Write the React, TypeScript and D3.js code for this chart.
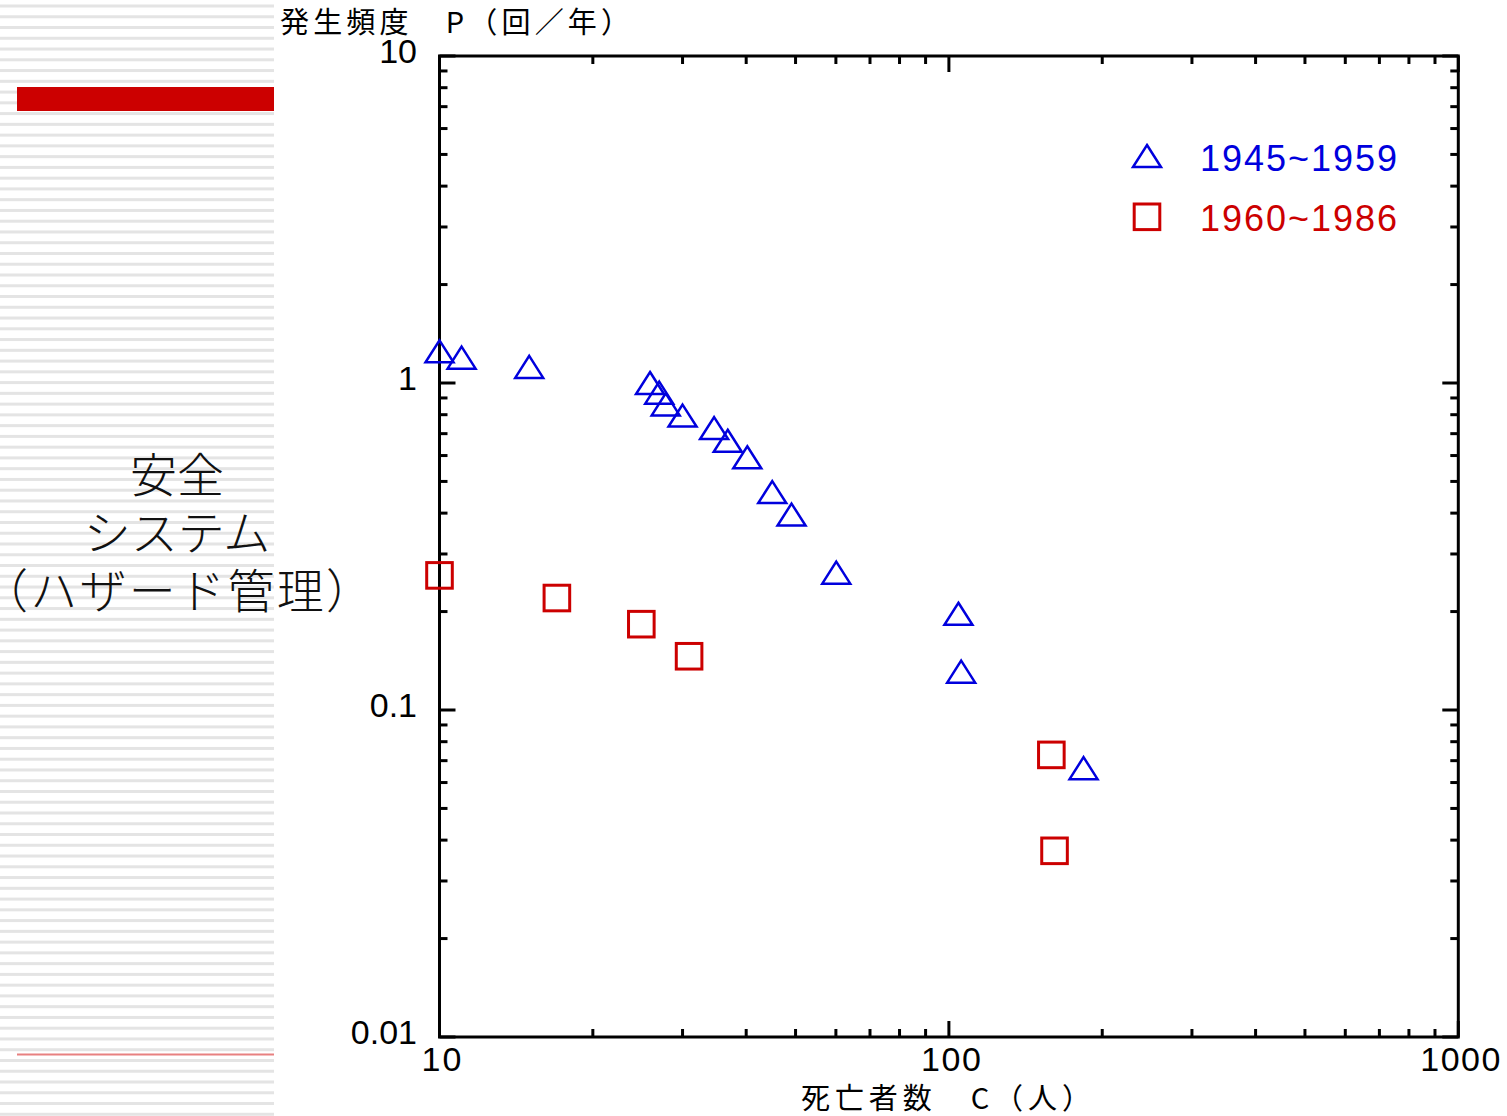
import React, { useRef, useEffect } from "react";
import * as d3 from "d3";

// 1945~1959 : death toll C, frequency P (per year)
const deaths1945 = [10.0, 11.05, 15.0, 25.9, 27.0, 27.8, 30.0, 34.6, 36.8, 40.2, 45.0, 49.1, 60.1, 104.4, 105.7, 183.8];
const freq1945 = [1.25, 1.195, 1.12, 1.0, 0.934, 0.86, 0.795, 0.728, 0.666, 0.593, 0.464, 0.396, 0.263, 0.197, 0.131, 0.0664];

// 1960~1986
const deaths1960 = [10.0, 17.0, 24.9, 30.9, 158.9, 161.2];
const freq1960 = [0.258, 0.22, 0.183, 0.146, 0.0729, 0.0371];

const xTickLabels = ["10", "100", "1000"];
const yTickLabels = ["0.01", "0.1", "1", "10"];
const seriesNames = ["1945~1959", "1960~1986"];
const sideLines = ["安全", "システム", "（ハザード管理）"];

const BLUE = "#0000dd";
const RED = "#cc0000";

export default function App() {
  const ref = useRef<SVGSVGElement>(null);

  useEffect(() => {
    const width = 1507;
    const height = 1116;
    const svg = d3.select(ref.current);
    svg.selectAll("*").remove();
    svg.attr("width", width).attr("height", height);

    const left = 439.5, right = 1458.3, top = 56, bottom = 1037;
    const x = d3.scaleLog().domain([10, 1000]).range([left, right]);
    const y = d3.scaleLog().domain([0.01, 10]).range([bottom, top]);

    svg.append("rect").attr("width", width).attr("height", height).attr("fill", "#fff");

    // striped side panel
    const side = svg.append("g");
    side.selectAll("rect.stripe")
      .data(d3.range(6, height, 10.76))
      .enter()
      .append("rect")
      .attr("x", 0)
      .attr("y", d => d - 1.5)
      .attr("width", 274)
      .attr("height", 3)
      .attr("fill", "#e4e4e4");
    side.append("rect").attr("x", 17).attr("y", 87).attr("width", 257).attr("height", 24).attr("fill", RED);
    side.append("rect").attr("x", 17).attr("y", 1053.5).attr("width", 257).attr("height", 2).attr("fill", "#e88080");

    side.selectAll("text.side")
      .data(sideLines)
      .enter()
      .append("text")
      .attr("x", 177)
      .attr("y", (d, i) => 492 + i * 58)
      .attr("text-anchor", "middle")
      .attr("font-family", "'Noto Sans CJK JP', sans-serif")
      .attr("font-size", 47)
      .attr("font-weight", 300)
      .attr("fill", "#111")
      .attr("textLength", (d, i) => (i === 2 ? 392 : null))
      .attr("lengthAdjust", "spacing")
      .text(d => d);

    // frame
    svg.append("rect")
      .attr("x", left).attr("y", top)
      .attr("width", right - left).attr("height", bottom - top)
      .attr("fill", "none").attr("stroke", "#000").attr("stroke-width", 3);

    const isMajor = (v: number) => Math.abs(Math.log10(v) - Math.round(Math.log10(v))) < 1e-6;
    const ticks = svg.append("g").attr("stroke", "#000").attr("stroke-width", 3);

    x.ticks().forEach(v => {
      const len = isMajor(v) ? 16 : 8;
      const px = x(v);
      ticks.append("line").attr("x1", px).attr("x2", px).attr("y1", bottom).attr("y2", bottom - len);
      ticks.append("line").attr("x1", px).attr("x2", px).attr("y1", top).attr("y2", top + len);
    });
    y.ticks().forEach(v => {
      const len = isMajor(v) ? 16 : 8;
      const py = y(v);
      ticks.append("line").attr("x1", left).attr("x2", left + len).attr("y1", py).attr("y2", py);
      ticks.append("line").attr("x1", right).attr("x2", right - len).attr("y1", py).attr("y2", py);
    });

    const sans = "'Liberation Sans', sans-serif";
    const cjk = "'Noto Sans CJK JP', sans-serif";

    svg.selectAll("text.xl")
      .data(xTickLabels)
      .enter()
      .append("text")
      .attr("x", d => x(+d) + 2)
      .attr("y", 1059)
      .attr("dominant-baseline", "central")
      .attr("text-anchor", "middle")
      .attr("font-family", sans)
      .attr("font-size", 34)
      .attr("textLength", d => d.length * 20)
      .attr("lengthAdjust", "spacing")
      .text(d => d);

    svg.selectAll("text.yl")
      .data(yTickLabels)
      .enter()
      .append("text")
      .attr("x", 417)
      .attr("y", d => y(+d) - 5)
      .attr("dominant-baseline", "central")
      .attr("text-anchor", "end")
      .attr("font-family", sans)
      .attr("font-size", 34)
      .text(d => d);

    svg.append("text")
      .attr("x", 280).attr("y", 33)
      .attr("font-family", cjk).attr("font-size", 29)
      .attr("textLength", 350).attr("lengthAdjust", "spacing")
      .text("発生頻度　P（回／年）");

    svg.append("text")
      .attr("x", 801).attr("y", 1109)
      .attr("font-family", cjk).attr("font-size", 29)
      .attr("textLength", 290).attr("lengthAdjust", "spacing")
      .text("死亡者数　C（人）");

    const tri = "M0,-11L14,11L-14,11Z";

    svg.append("g")
      .selectAll("path")
      .data(deaths1945.map((c, i) => [c, freq1945[i]]))
      .enter()
      .append("path")
      .attr("d", tri)
      .attr("transform", d => `translate(${x(d[0])},${y(d[1])})`)
      .attr("fill", "none")
      .attr("stroke", BLUE)
      .attr("stroke-width", 2.5);

    svg.append("g")
      .selectAll("rect")
      .data(deaths1960.map((c, i) => [c, freq1960[i]]))
      .enter()
      .append("rect")
      .attr("x", d => x(d[0]) - 12.8)
      .attr("y", d => y(d[1]) - 12.8)
      .attr("width", 25.6)
      .attr("height", 25.6)
      .attr("fill", "none")
      .attr("stroke", RED)
      .attr("stroke-width", 3);

    // legend
    const legend = svg.append("g");
    legend.append("path").attr("d", tri).attr("transform", "translate(1147,156)")
      .attr("fill", "none").attr("stroke", BLUE).attr("stroke-width", 2.5);
    legend.append("rect").attr("x", 1134.2).attr("y", 204).attr("width", 25.6).attr("height", 25.6)
      .attr("fill", "none").attr("stroke", RED).attr("stroke-width", 3);
    legend.selectAll("text")
      .data(seriesNames)
      .enter()
      .append("text")
      .attr("x", 1200)
      .attr("y", (d, i) => 158 + i * 60.5)
      .attr("dominant-baseline", "central")
      .attr("font-family", sans)
      .attr("font-size", 36)
      .attr("textLength", 197)
      .attr("lengthAdjust", "spacing")
      .attr("fill", (d, i) => (i === 0 ? BLUE : RED))
      .text(d => d);
  }, []);

  return <svg ref={ref} style={{ position: "absolute", left: 0, top: 0 }}></svg>;
}
